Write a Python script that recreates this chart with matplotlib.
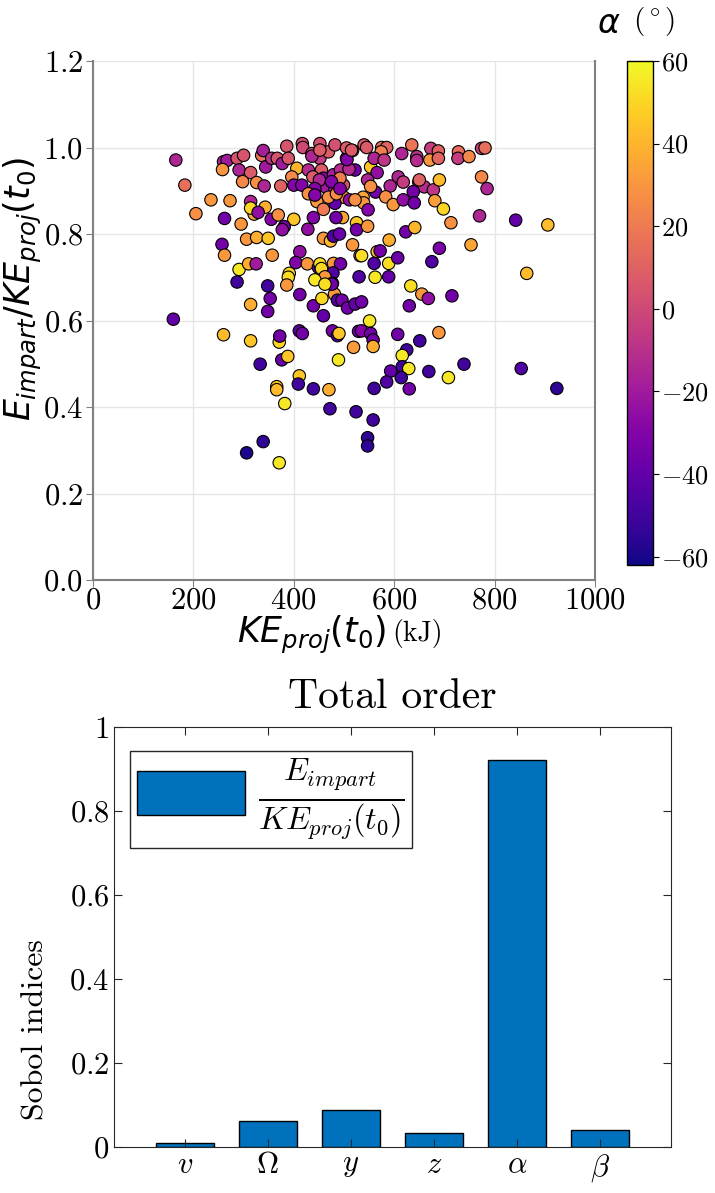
import matplotlib
matplotlib.use("Agg")
import matplotlib.pyplot as plt
from matplotlib.ticker import FuncFormatter

plt.rcParams["font.family"] = "cmr10"
plt.rcParams["mathtext.fontset"] = "cm"
plt.rcParams["axes.formatter.use_mathtext"] = True

# scatter data: kinetic energy at t0 (kJ), imparted energy ratio, impact angle alpha (deg)
ke_kj = [
    165, 183, 205, 235, 273, 262, 295, 257, 262, 291,
    310, 325, 287, 260, 267, 258, 287, 300, 291, 314,
    298, 326, 341, 336, 339, 344, 374, 356, 367, 377,
    386, 389, 406, 396, 400, 416, 417, 418, 436, 452,
    452, 469, 482, 429, 455, 438, 459, 463, 479, 493,
    505, 505, 522, 499, 500, 482, 482, 469, 446, 459,
    432, 440, 439, 428, 400, 381, 377, 355, 369, 343,
    321, 314, 314, 329, 306, 326, 349, 357, 412, 404,
    427, 449, 452, 455, 479, 493, 478, 462, 442, 477,
    391, 389, 386, 348, 459, 473, 479, 491, 497, 484,
    517, 511,
    540, 517, 545, 575, 585, 574, 615, 635, 673, 688,
    645, 645, 671, 688, 728, 727, 749, 774, 781, 510,
    553, 566, 560, 580, 547, 608, 618, 592, 649, 660,
    678, 690, 638, 563, 553, 538, 539, 583, 598, 618,
    640, 681, 698, 548, 713, 770, 774, 785, 842, 906,
    525, 525, 547, 623, 641, 590, 532, 535, 566, 572,
    560, 589, 607, 690, 675, 753, 530, 562, 589, 633,
    864,
    160, 260, 314, 371, 372, 333, 376, 388, 411, 417,
    411, 409, 366, 366, 382, 439, 470, 472, 524, 477,
    487, 490, 519, 489, 529, 339, 306, 371, 314, 353,
    348, 412, 439, 456, 459, 481, 487, 496, 507, 522,
    476, 462,
    655, 668, 715, 630, 535, 551, 535, 553, 558, 558,
    607, 651, 689, 625, 616, 616, 629, 614, 593, 585,
    560, 630, 669, 708, 739, 853, 924, 558, 547, 547,
    436, 452, 506, 515, 492, 485, 451, 442, 475, 492,
    429, 442, 522, 650,
]
e_ratio = [
    0.971, 0.913, 0.847, 0.879, 0.877, 0.836, 0.823, 0.776, 0.751, 0.718,
    0.731, 0.731, 0.689, 0.967, 0.970, 0.949, 0.975, 0.982, 0.948, 0.942,
    0.921, 0.919, 0.911, 0.982, 0.993, 0.955, 0.911, 0.975, 0.975, 0.963,
    1.003, 0.975, 0.952, 0.932, 0.913, 0.913, 1.009, 1.000, 0.986, 1.009,
    0.975, 0.990, 1.006, 0.948, 0.948, 0.932, 0.929, 0.909, 0.937, 0.948,
    0.975, 0.999, 0.948, 0.913, 0.885, 0.902, 0.871, 0.885, 0.875, 0.857,
    0.894, 0.898, 0.838, 0.811, 0.834, 0.817, 0.810, 0.834, 0.844, 0.862,
    0.846, 0.875, 0.860, 0.850, 0.788, 0.792, 0.790, 0.751, 0.759, 0.734,
    0.731, 0.723, 0.731, 0.720, 0.732, 0.731, 0.710, 0.701, 0.694, 0.686,
    0.709, 0.700, 0.682, 0.680, 0.790, 0.784, 0.795, 0.800, 0.838, 0.838,
    0.775, 0.879,
    1.006, 0.993, 1.000, 1.000, 1.000, 0.990, 0.986, 1.006, 0.998, 0.992,
    0.979, 0.970, 0.971, 0.975, 0.990, 0.975, 0.979, 0.998, 0.999, 0.950,
    0.955, 0.942, 0.975, 0.971, 0.925, 0.932, 0.920, 0.911, 0.920, 0.909,
    0.902, 0.925, 0.898, 0.897, 0.910, 0.885, 0.872, 0.886, 0.868, 0.879,
    0.872, 0.877, 0.858, 0.856, 0.826, 0.842, 0.932, 0.905, 0.832, 0.821,
    0.826, 0.810, 0.818, 0.805, 0.815, 0.786, 0.750, 0.750, 0.759, 0.761,
    0.732, 0.732, 0.745, 0.767, 0.736, 0.775, 0.701, 0.700, 0.701, 0.680,
    0.709,
    0.603, 0.567, 0.553, 0.550, 0.564, 0.499, 0.509, 0.517, 0.576, 0.570,
    0.472, 0.453, 0.447, 0.440, 0.408, 0.442, 0.440, 0.396, 0.389, 0.576,
    0.565, 0.570, 0.538, 0.509, 0.575, 0.320, 0.294, 0.271, 0.637, 0.651,
    0.621, 0.660, 0.634, 0.651, 0.611, 0.661, 0.647, 0.647, 0.629, 0.638,
    0.684, 0.684,
    0.661, 0.651, 0.657, 0.634, 0.643, 0.599, 0.576, 0.570, 0.555, 0.540,
    0.568, 0.553, 0.572, 0.532, 0.519, 0.493, 0.489, 0.468, 0.483, 0.458,
    0.443, 0.442, 0.482, 0.468, 0.499, 0.489, 0.443, 0.370, 0.329, 0.310,
    0.980, 0.994, 0.972, 0.994, 0.929, 0.893, 0.925, 0.905, 0.921, 0.905,
    0.893, 0.890, 0.879, 0.925,
]
alpha_deg = [
    -15, 15, 28, 30, 30, -35, 30, -35, 30, 55,
    38, -20, -50, -15, -20, 30, 5, 5, -15, 8,
    25, 28, -15, 18, -18, -20, 10, -10, 5, -20,
    5, 5, 40, 25, -30, -30, 3, 0, 5, 3,
    -5, 8, 3, -12, 8, 8, -30, -20, -18, -12,
    -15, 8, -35, 5, 28, -15, -40, 28, 30, 20,
    18, -18, -30, -25, 45, -35, -25, -30, 28, 38,
    35, -15, 50, -25, 30, 38, 45, 30, -25, -30,
    30, -45, 52, 50, 30, -35, -45, 30, 55, -45,
    50, 52, 30, -50, 30, 42, -45, -38, 35, -35,
    30, -25,
    8, 8, 8, 15, 10, 22, -15, 18, -5, 10,
    -10, -12, 30, 12, 15, -5, 25, -3, 15, -12,
    45, -25, -15, -8, -15, -15, -5, -15, -12, -12,
    -8, 42, -35, -35, 28, 35, 30, 28, 30, -25,
    -35, 33, 50, -30, 28, -15, 25, -15, -40, 42,
    45, -35, 30, -35, 40, 38, 20, 52, 45, -35,
    -45, 52, -38, -32, -45, 35, -45, 55, -40, 52,
    42,
    -40, 42, 45, 50, -35, -50, -40, 45, -42, -35,
    45, -50, 45, 42, 55, -50, 38, -50, -50, -35,
    -45, 45, 32, 55, -35, -55, -60, 55, 38, -35,
    -35, -35, -35, 50, -40, 30, -45, -35, -35, -40,
    -35, 52,
    30, -25, -35, -35, -35, 55, -30, -35, -35, 38,
    -35, -50, 30, -50, 55, -50, 55, -50, -40, -45,
    -50, -35, -50, 55, -50, -45, -55, -50, -55, -55,
    -15, 8, -30, 8, 20, 28, -15, -30, -30, -30,
    28, -30, 28, 10,
]

# Sobol total-order indices
params = [r"$v$", r"$\Omega$", r"$y$", r"$z$", r"$\alpha$", r"$\beta$"]
sobol_total = [0.009, 0.062, 0.088, 0.033, 0.921, 0.040]

W, H = 715, 1193
fig = plt.figure(figsize=(W / 100, H / 100), dpi=100)

# ---- scatter ----
ax1 = fig.add_axes([93 / W, 1 - 580 / H, 502 / W, 519 / H])
cax = fig.add_axes([627 / W, 1 - 565 / H, 26 / W, 504 / H])

sc = ax1.scatter(ke_kj, e_ratio, c=alpha_deg, cmap="plasma", vmin=-62, vmax=60,
                 s=80, edgecolors="black", linewidths=0.8, zorder=3)
ax1.set_xlim(0, 1000)
ax1.set_ylim(0, 1.2)
ax1.set_xticks([0, 200, 400, 600, 800, 1000])
ax1.set_yticks([0, 0.2, 0.4, 0.6, 0.8, 1.0, 1.2])
ax1.xaxis.set_major_formatter(FuncFormatter(lambda v, _: f"${v:.0f}$"))
ax1.yaxis.set_major_formatter(FuncFormatter(lambda v, _: f"${v:.1f}$"))
ax1.tick_params(labelsize=22, length=5, color="#808080", pad=2)
ax1.tick_params(axis="x", pad=0)
ax1.grid(True, color="#e6e6e6", lw=1)
ax1.set_axisbelow(True)
for side in ["left", "bottom", "right"]:
    ax1.spines[side].set_color("#808080")
    ax1.spines[side].set_linewidth(1.5)
ax1.spines["top"].set_visible(False)

ax1.set_ylabel(r"$E_{impart}/KE_{proj}(t_0)$", fontsize=25,
               math_fontfamily="dejavusans")
ax1.yaxis.set_label_coords(-0.098, 0.56)
ax1.text(0.436, -0.106, r"$KE_{proj}(t_0)$", transform=ax1.transAxes,
         fontsize=25, math_fontfamily="dejavusans", ha="center", va="center")
ax1.text(0.647, -0.104, "(kJ)", transform=ax1.transAxes,
         fontsize=20, ha="center", va="center")

cb = fig.colorbar(sc, cax=cax)
cb.set_ticks([-60, -40, -20, 0, 20, 40, 60])
cb.ax.yaxis.set_major_formatter(FuncFormatter(lambda v, _: f"${v:.0f}$"))
cb.ax.tick_params(labelsize=19, length=4, pad=2)
cb.outline.set_linewidth(1.0)
fig.text(609 / W, 1 - 24 / H, r"$\alpha$", fontsize=24,
         math_fontfamily="dejavusans", ha="center", va="center")
fig.text(654 / W, 1 - 22 / H, r"$(^\circ)$", fontsize=21,
         ha="center", va="center")

# ---- bar chart ----
ax2 = fig.add_axes([114 / W, 1 - 1147 / H, 557 / W, 420 / H])
pos = list(range(1, len(params) + 1))
ax2.bar(pos, sobol_total, width=0.7, color="#0072BD", edgecolor="black", lw=1,
        label=r"$\frac{E_{impart}}{KE_{proj}(t_0)}$")
ax2.set_xlim(0.15, 6.85)
ax2.set_ylim(0, 1)
ax2.set_xticks(pos)
ax2.set_xticklabels(params)
ax2.set_yticks([0, 0.2, 0.4, 0.6, 0.8, 1.0])
ax2.yaxis.set_major_formatter(FuncFormatter(lambda v, _: f"${v:g}$"))
ax2.tick_params(direction="in", top=True, right=True, length=6, width=0.8,
                labelsize=22, color="#262626")
for s in ax2.spines.values():
    s.set_color("#262626")
    s.set_linewidth(0.8)
ax2.set_title("Total order", fontsize=30, pad=14)
ax2.set_ylabel("Sobol indices", fontsize=23)
ax2.yaxis.set_label_coords(-0.115, 0.28)
leg = ax2.legend(loc="upper left", bbox_to_anchor=(0.029, 0.943), borderaxespad=0,
                 fontsize=33, handlelength=2.35, handleheight=1.1,
                 fancybox=False, framealpha=1, edgecolor="#262626",
                 borderpad=0.15, handletextpad=0.3)
leg.get_frame().set_linewidth(1.0)

fig.savefig("out.png", dpi=100)
